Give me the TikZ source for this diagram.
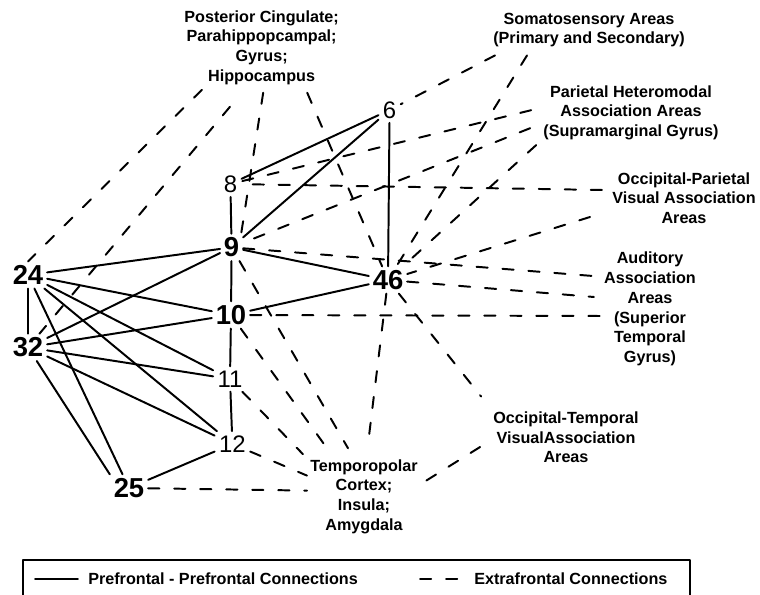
\documentclass[tikz,border=0pt]{standalone}
\usepackage{fontspec}
\setmainfont{Liberation Sans}
\begin{document}
\begin{tikzpicture}[line cap=round, line join=round]

    \useasboundingbox (0,0) rectangle (19,14.875);

    \tikzset{
      bignum/.style={font=\fontsize{19.5}{21}\selectfont\bfseries, inner sep=2.6pt},
      smallnum/.style={font=\fontsize{17}{19}\selectfont, inner sep=3pt},
      arealabel/.style={font=\fontsize{11.5}{14}\selectfont\bfseries, align=center, inner sep=0pt},
      legtext/.style={font=\fontsize{11.5}{14}\selectfont\bfseries, inner sep=0pt, anchor=west},
      pp/.style={line width=1.4pt},
      ext/.style={line width=1.4pt, dash pattern=on 8pt off 10.5pt}
    }

    % prefrontal areas
    \node[bignum] (n24) at (0.70,8.00) {24};
    \node[bignum] (n32) at (0.70,6.19) {32};
    \node[bignum] (n25) at (3.225,2.675) {25};
    \node[bignum] (n9) at (5.79,8.69) {9};
    \node[bignum] (n10) at (5.775,7.00) {10};
    \node[bignum] (n46) at (9.70,7.875) {46};
    \node[smallnum] (n8) at (5.76,10.275) {8};
    \node[smallnum] (n6) at (9.74,12.125) {6};
    \node[smallnum] (n11) at (5.75,5.40) {11};
    \node[smallnum] (n12) at (5.81,3.775) {12};

    % extrafrontal areas
    \node[arealabel] (pcg) at (6.54,13.69) {Posterior Cingulate;\\Parahippopcampal;\\Gyrus;\\Hippocampus};
    \node[arealabel] (soma) at (14.725,14.125) {Somatosensory Areas\\(Primary and Secondary)};
    \node[arealabel] (pari) at (15.775,12.06) {Parietal Heteromodal\\Association Areas\\(Supramarginal Gyrus)};
    \node[arealabel] (occp) at (17.10,9.925) {Occipital-Parietal\\Visual Association\\Areas};
    \node[arealabel] (audi) at (16.25,7.15) {Auditory\\Association\\Areas\\(Superior\\Temporal\\Gyrus)};
    \node[arealabel] (occt) at (14.15,3.94) {Occipital-Temporal\\VisualAssociation\\Areas};
    \node[arealabel] (temp) at (9.10,2.46) {Temporopolar\\Cortex;\\Insula;\\Amygdala};

    % prefrontal - prefrontal
    \draw[pp] (n24) -- (n32);
    \draw[pp] (n24) -- (n9);
    \draw[pp] (n24) -- (n10);
    \draw[pp] (n24) -- (n11);
    \draw[pp] (n24) -- (n12);
    \draw[pp] (n24) -- (n25);
    \draw[pp] (n32) -- (n9);
    \draw[pp] (n32) -- (n10);
    \draw[pp] (n32) -- (n11);
    \draw[pp] (n32) -- (n12);
    \draw[pp] (n32) -- (n25.north west);
    \draw[pp] (n25) -- (n12);
    \draw[pp] (n8) -- (n9);
    \draw[pp] (n9) -- (n10);
    \draw[pp] (n10) -- (n11);
    \draw[pp] (n11) -- (n12);
    \draw[pp] (n8) -- (n6);
    \draw[pp] (n9) -- (n6);
    \draw[pp] (n6) -- (n46);
    \draw[pp] (n9) -- (n46);
    \draw[pp] (n10) -- (n46);

    % extrafrontal
    \draw[ext] ([shift={(-1.49,-0.125)}]pcg.south) -- (n24.north);
    \draw[ext] ([shift={(-0.79,-0.55)}]pcg.south) -- (n32);
    \draw[ext] ([shift={(0.04,-0.2)}]pcg.south) -- (n9.55);
    \draw[ext] ([shift={(1.14,-0.2)}]pcg.south) -- (n46);
    \draw[ext] ([shift={(-2.35,-0.2)}]soma.south) -- (n6);
    \draw[ext] ([shift={(-1.55,-0.2)}]soma.south) -- (n46);
    \draw[ext] ([shift={(-0.3,0.06)}]pari.west) -- (n8);
    \draw[ext] ([shift={(-0.325,-0.39)}]pari.west) -- (n9);
    \draw[ext] ([shift={(-0.175,-0.125)}]pari.south west) -- (n46);
    \draw[ext] ([shift={(-0.25,0.2)}]occp.west) -- (n8);
    \draw[ext] ([shift={(-0.55,-0.475)}]occp.west) -- (n46);
    \draw[ext] (n9) -- ([shift={(-0.275,0.825)}]audi.west);
    \draw[ext] (n46) -- ([shift={(-0.25,0.3)}]audi.west);
    \draw[ext] (n10) -- ([shift={(-0.075,-0.175)}]audi.west);
    \draw[ext] (n46) -- ([shift={(-0.3,0.375)}]occt.north west);
    \draw[ext] ([shift={(-0.325,-0.24)}]occt.west) -- ([shift={(-0.075,0.225)}]temp.east);
    \draw[ext] (n9) -- ([shift={(-0.4,0.275)}]temp.north);
    \draw[ext] (n10) -- ([shift={(-0.925,0.275)}]temp.north);
    \draw[ext] (n11) -- ([shift={(-1.525,0.125)}]temp.north);
    \draw[ext] (n46) -- ([shift={(0.1,0.375)}]temp.north);
    \draw[ext] (n12) -- ([shift={(-0.075,0.525)}]temp.west);
    \draw[ext] (n25) -- ([shift={(-0.075,0.15)}]temp.west);

    % legend
    \draw[pp, line cap=butt] (0.575,0) |- (17.25,0.875) -- (17.25,0);
    \node[legtext] (legpp) at (2.2,0.4) {Prefrontal - Prefrontal Connections};
    \node[legtext] (legext) at (11.85,0.4) {Extrafrontal Connections};
    \draw[pp] ([xshift=-1.325cm]legpp.west) -- ([xshift=-0.25cm]legpp.west);
    \draw[ext] ([xshift=-1.35cm]legext.west) -- ([xshift=-0.35cm]legext.west);

\end{tikzpicture}
\end{document}
